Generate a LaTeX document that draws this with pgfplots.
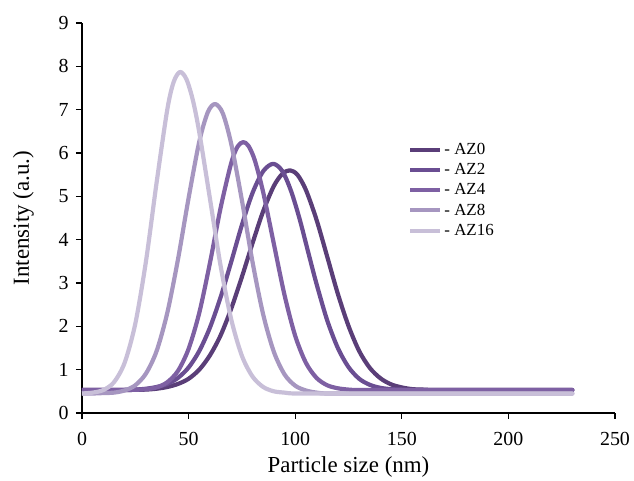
\documentclass[border=0pt]{standalone}
\usepackage{fontspec}
\setmainfont{Liberation Serif}
\usepackage{pgfplots}
\pgfplotsset{compat=1.18}
\definecolor{cAZ0}{RGB}{90,62,120}
\definecolor{cAZ2}{RGB}{106,78,146}
\definecolor{cAZ4}{RGB}{126,96,163}
\definecolor{cAZ8}{RGB}{166,150,192}
\definecolor{cAZ16}{RGB}{200,191,216}
\begin{document}
\begin{tikzpicture}
\begin{axis}[
  scale only axis, width=533bp, height=390bp,
  xmin=0, xmax=250, ymin=0, ymax=9,
  axis x line=bottom, axis y line=left,
  axis line style={-, line width=1.5bp, black},
  xtick={0,50,...,250}, ytick={0,1,...,9},
  tick align=outside, major tick length=6bp,
  tick style={line width=1.2bp, black},
  ticklabel style={font=\fontsize{20}{20}\selectfont},
  xticklabel style={yshift=-10bp},
  yticklabel style={xshift=-4bp},
  /pgf/number format/assume math mode=true,
  xlabel={Particle size (nm)}, ylabel={Intensity (a.u.)},
  label style={font=\fontsize{23}{23}\selectfont},
  xlabel style={at={(axis description cs:0.5,-0.138)}, anchor=center},
  ylabel style={at={(axis description cs:-0.11,0.5)}, anchor=center},
  legend style={draw=none, fill=none, at={(0.612,0.697)}, anchor=north west,
    font=\fontsize{17}{17}\selectfont, row sep=3.5bp, inner sep=0pt},
  legend cell align=left,
  legend image code/.code={\draw[#1, line width=4bp, line cap=butt] (0bp,0bp) -- (30bp,0bp);},
  every axis plot/.append style={line width=4.2bp, line cap=round, line join=round, smooth, no markers},
]
\addplot[cAZ0] coordinates {
(0,0.53) (10,0.53) (20,0.53) (25,0.535) (30,0.54) (35,0.56) (40,0.60) (45,0.67) (50,0.79)
(55,1.00) (60,1.33) (65,1.79) (70,2.41) (75,3.14) (80,3.92) (85,4.66) (90,5.24) (94,5.52)
(97.5,5.60) (101,5.50) (105,5.15) (110,4.46) (115,3.61) (120,2.75) (125,2.01) (130,1.43)
(135,1.04) (140,0.80) (145,0.66) (150,0.59) (155,0.55) (160,0.54) (165,0.53) (180,0.53) (200,0.53) (230,0.53)};
\addlegendentry{- AZ0}
\addplot[cAZ2] coordinates {
(0,0.53) (10,0.53) (20,0.534) (25,0.54) (30,0.56) (35,0.60) (40,0.67) (45,0.81) (50,1.05)
(55,1.43) (60,1.97) (65,2.67) (70,3.49) (75,4.34) (80,5.08) (85,5.58) (89.7,5.75) (94,5.58)
(98,5.13) (102,4.49) (106,3.73) (110,2.98) (115,2.14) (120,1.50) (125,1.06) (130,0.79)
(135,0.65) (140,0.58) (145,0.55) (150,0.54) (155,0.53) (180,0.53) (200,0.53) (230,0.53)};
\addlegendentry{- AZ2}
\addplot[cAZ4] coordinates {
(0,0.53) (10,0.53) (20,0.53) (25,0.535) (30,0.55) (35,0.59) (40,0.71) (45,0.97) (50,1.48)
(55,2.31) (60,3.46) (65,4.73) (70,5.77) (73,6.15) (75.6,6.25) (78,6.17) (81,5.84) (85,5.09)
(90,3.90) (95,2.72) (100,1.78) (105,1.16) (110,0.81) (115,0.64) (120,0.57) (125,0.54)
(130,0.53) (150,0.53) (180,0.53) (200,0.53) (230,0.53)};
\addlegendentry{- AZ4}
\addplot[cAZ8] coordinates {
(0,0.45) (5,0.45) (10,0.46) (15,0.47) (20,0.52) (25,0.64) (30,0.91) (35,1.43) (40,2.31)
(45,3.54) (50,4.96) (55,6.26) (59,6.94) (62.4,7.13) (66,6.92) (70,6.21) (75,4.91) (80,3.48)
(85,2.27) (90,1.41) (95,0.89) (100,0.63) (105,0.52) (110,0.47) (115,0.45) (130,0.45)
(150,0.45) (180,0.45) (200,0.45) (230,0.45)};
\addlegendentry{- AZ8}
\addplot[cAZ16] coordinates {
(0,0.45) (5,0.47) (10,0.53) (15,0.71) (20,1.16) (25,2.06) (30,3.50) (35,5.32) (40,7.00)
(43,7.64) (46,7.87) (49,7.70) (52,7.22) (55,6.48) (60,4.95) (65,3.40) (70,2.16) (75,1.32)
(80,0.84) (85,0.60) (90,0.50) (95,0.47) (100,0.45) (120,0.45) (150,0.45) (180,0.45)
(200,0.45) (230,0.45)};
\addlegendentry{- AZ16}
\end{axis}
\pgfresetboundingbox
\path ([shift={(-82bp,-68bp)}]current axis.south west) rectangle ([shift={(19bp,23bp)}]current axis.north east);
\end{tikzpicture}
\end{document}
